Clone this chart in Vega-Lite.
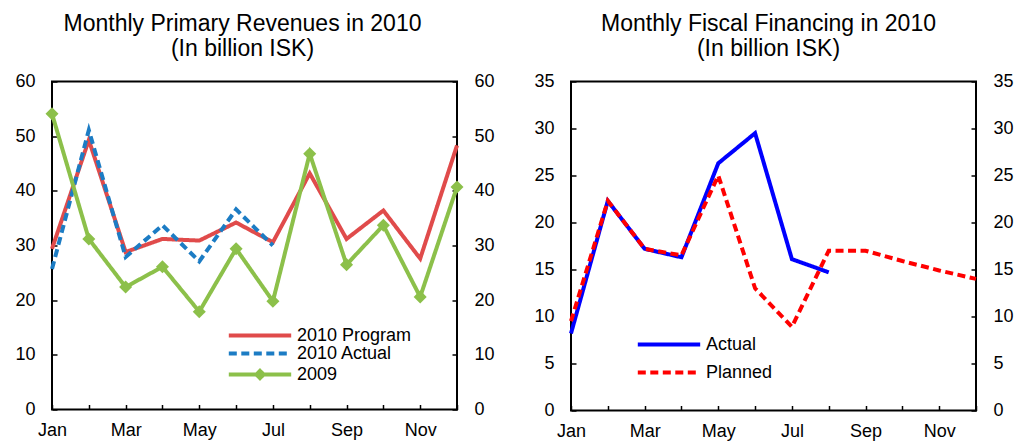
{
  "$schema": "https://vega.github.io/schema/vega-lite/v6.json",
  "padding": {"left": 13, "top": 11.5, "right": 0, "bottom": 0},
  "spacing": 36,
  "datasets": {
    "rev": [
      {"month": "Jan", "series": "2010 Program", "value": 29.4},
      {"month": "Feb", "series": "2010 Program", "value": 49.3},
      {"month": "Mar", "series": "2010 Program", "value": 28.8},
      {"month": "Apr", "series": "2010 Program", "value": 31.2},
      {"month": "May", "series": "2010 Program", "value": 30.9},
      {"month": "Jun", "series": "2010 Program", "value": 34.2},
      {"month": "Jul", "series": "2010 Program", "value": 30.6},
      {"month": "Aug", "series": "2010 Program", "value": 43.2},
      {"month": "Sep", "series": "2010 Program", "value": 31.2},
      {"month": "Oct", "series": "2010 Program", "value": 36.4},
      {"month": "Nov", "series": "2010 Program", "value": 27.6},
      {"month": "Dec", "series": "2010 Program", "value": 48.3},
      {"month": "Jan", "series": "2010 Actual", "value": 25.7},
      {"month": "Feb", "series": "2010 Actual", "value": 51.1},
      {"month": "Mar", "series": "2010 Actual", "value": 27.9},
      {"month": "Apr", "series": "2010 Actual", "value": 33.7},
      {"month": "May", "series": "2010 Actual", "value": 27.1},
      {"month": "Jun", "series": "2010 Actual", "value": 36.6},
      {"month": "Jul", "series": "2010 Actual", "value": 30.0},
      {"month": "Jan", "series": "2009", "value": 54.1},
      {"month": "Feb", "series": "2009", "value": 31.2},
      {"month": "Mar", "series": "2009", "value": 22.4},
      {"month": "Apr", "series": "2009", "value": 26.1},
      {"month": "May", "series": "2009", "value": 17.9},
      {"month": "Jun", "series": "2009", "value": 29.4},
      {"month": "Jul", "series": "2009", "value": 19.8},
      {"month": "Aug", "series": "2009", "value": 46.8},
      {"month": "Sep", "series": "2009", "value": 26.5},
      {"month": "Oct", "series": "2009", "value": 33.7},
      {"month": "Nov", "series": "2009", "value": 20.6},
      {"month": "Dec", "series": "2009", "value": 40.7}
    ],
    "fin": [
      {"month": "Jan", "series": "Actual", "value": 8.2},
      {"month": "Feb", "series": "Actual", "value": 22.3},
      {"month": "Mar", "series": "Actual", "value": 17.2},
      {"month": "Apr", "series": "Actual", "value": 16.3},
      {"month": "May", "series": "Actual", "value": 26.3},
      {"month": "Jun", "series": "Actual", "value": 29.5},
      {"month": "Jul", "series": "Actual", "value": 16.1},
      {"month": "Aug", "series": "Actual", "value": 14.7},
      {"month": "Jan", "series": "Planned", "value": 9.5},
      {"month": "Feb", "series": "Planned", "value": 22.3},
      {"month": "Mar", "series": "Planned", "value": 17.2},
      {"month": "Apr", "series": "Planned", "value": 16.5},
      {"month": "May", "series": "Planned", "value": 25.0},
      {"month": "Jun", "series": "Planned", "value": 13.0},
      {"month": "Jul", "series": "Planned", "value": 8.9},
      {"month": "Aug", "series": "Planned", "value": 17.0},
      {"month": "Sep", "series": "Planned", "value": 17.0},
      {"month": "Oct", "series": "Planned", "value": 15.9},
      {"month": "Nov", "series": "Planned", "value": 14.9},
      {"month": "Dec", "series": "Planned", "value": 14.0}
    ]
  },
  "resolve": {
    "scale": {"color": "independent", "strokeDash": "independent", "shape": "independent", "x": "independent"},
    "legend": {"color": "independent", "strokeDash": "independent", "shape": "independent"}
  },
  "hconcat": [
    {
      "width": 405,
      "height": 328,
      "title": {"text": ["Monthly Primary Revenues in 2010", "(In billion ISK)"], "offset": 12, "dx": -12},
      "data": {"name": "rev"},
      "layer": [
        {
          "mark": {"type": "line", "strokeWidth": 4},
          "encoding": {
            "x": {"field": "month", "type": "ordinal", "sort": ["Jan","Feb","Mar","Apr","May","Jun","Jul","Aug","Sep","Oct","Nov","Dec"], "scale": {"type": "point", "padding": 0},
                  "axis": {"title": null, "labelAngle": 0, "labelPadding": 17, "labelExpr": "(datum.value == 'Jan' || datum.value == 'Mar' || datum.value == 'May' || datum.value == 'Jul' || datum.value == 'Sep' || datum.value == 'Nov') ? datum.value : ''"}},
            "y": {"field": "value", "type": "quantitative", "scale": {"domain": [0, 60]}, "axis": {"title": null, "orient": "left", "values": [0,10,20,30,40,50,60]}},
            "color": {"field": "series", "type": "nominal", "sort": null,
                      "scale": {"domain": ["2010 Program", "2010 Actual", "2009"], "range": ["#E04B4B", "#1C7CC4", "#8CC04A"]},
                      "legend": {"orient": "none", "legendX": 199, "legendY": 245, "rowPadding": 0}},
            "strokeDash": {"field": "series", "type": "nominal", "sort": null,
                      "scale": {"domain": ["2010 Program", "2010 Actual", "2009"], "range": [[1, 0], [8, 4.5], [1, 0]]},
                      "legend": {"orient": "none", "legendX": 199, "legendY": 245, "rowPadding": 0}}
          }
        },
        {
          "transform": [{"filter": "datum.series === '2009'"}],
          "mark": {"type": "point", "shape": "diamond", "filled": true, "size": 170, "color": "#8CC04A", "opacity": 1},
          "encoding": {
            "x": {"field": "month", "type": "ordinal", "sort": ["Jan","Feb","Mar","Apr","May","Jun","Jul","Aug","Sep","Oct","Nov","Dec"], "scale": {"type": "point", "padding": 0}},
            "y": {"field": "value", "type": "quantitative", "scale": {"domain": [0, 60]}, "axis": {"title": null, "orient": "right", "values": [0,10,20,30,40,50,60]}}
          }
        },
        {
          "transform": [{"filter": "false"}],
          "mark": {"type": "point", "strokeWidth": 4, "opacity": 1},
          "encoding": {
            "shape": {"field": "series", "type": "nominal", "sort": null,
                      "scale": {"domain": ["2010 Program", "2010 Actual", "2009"], "range": ["M-5.2,0H5.2", "M-5.2,0H5.2", "M-5.2,0H5.2M-0.6,0L0,-0.6L0.6,0L0,0.6Z"]},
                      "legend": {"orient": "none", "legendX": 199, "legendY": 245, "rowPadding": 0}}
          }
        }
      ],
      "resolve": {"scale": {"y": "independent"}}
    },
    {
      "width": 405,
      "height": 329,
      "title": {"text": ["Monthly Fiscal Financing in 2010", "(In billion ISK)"], "offset": 12, "dx": -5},
      "data": {"name": "fin"},
      "layer": [
        {
          "mark": {"type": "line", "strokeWidth": 4},
          "encoding": {
            "x": {"field": "month", "type": "ordinal", "sort": ["Jan","Feb","Mar","Apr","May","Jun","Jul","Aug","Sep","Oct","Nov","Dec"], "scale": {"type": "point", "padding": 0},
                  "axis": {"title": null, "labelAngle": 0, "labelPadding": 17, "labelExpr": "(datum.value == 'Jan' || datum.value == 'Mar' || datum.value == 'May' || datum.value == 'Jul' || datum.value == 'Sep' || datum.value == 'Nov') ? datum.value : ''"}},
            "y": {"field": "value", "type": "quantitative", "scale": {"domain": [0, 35]}, "axis": {"title": null, "orient": "left", "values": [0,5,10,15,20,25,30,35]}},
            "color": {"field": "series", "type": "nominal", "sort": null,
                      "scale": {"domain": ["Actual", "Planned"], "range": ["#0000FF", "#FF0000"]},
                      "legend": {"orient": "none", "legendX": 89, "legendY": 254, "rowPadding": 10}},
            "strokeDash": {"field": "series", "type": "nominal", "sort": null,
                      "scale": {"domain": ["Actual", "Planned"], "range": [[1, 0], [8, 4.5]]},
                      "legend": {"orient": "none", "legendX": 89, "legendY": 254, "rowPadding": 10}}
          }
        },
        {
          "mark": {"type": "point", "opacity": 0},
          "encoding": {
            "x": {"field": "month", "type": "ordinal", "sort": ["Jan","Feb","Mar","Apr","May","Jun","Jul","Aug","Sep","Oct","Nov","Dec"], "scale": {"type": "point", "padding": 0}},
            "y": {"field": "value", "type": "quantitative", "scale": {"domain": [0, 35]}, "axis": {"title": null, "orient": "right", "values": [0,5,10,15,20,25,30,35]}}
          }
        }
      ],
      "resolve": {"scale": {"y": "independent"}}
    }
  ],
  "config": {
    "font": "Liberation Sans",
    "view": {"stroke": "black", "strokeWidth": 2},
    "axis": {"grid": false, "domain": false, "tickColor": "black", "tickSize": -5, "tickWidth": 1.5, "labelFontSize": 18, "labelColor": "black", "labelFont": "Liberation Sans", "labelPadding": 22},
    "title": {"fontSize": 23, "fontWeight": "normal", "color": "black", "lineHeight": 25, "anchor": "middle", "font": "Liberation Sans"},
    "legend": {"title": null, "padding": 0, "direction": "vertical", "symbolType": "M-5.2,0H5.2", "symbolSize": 144, "symbolStrokeWidth": 4, "labelFontSize": 18, "labelFont": "Liberation Sans", "labelColor": "black", "labelOffset": 28, "labelLimit": 400}
  }
}
